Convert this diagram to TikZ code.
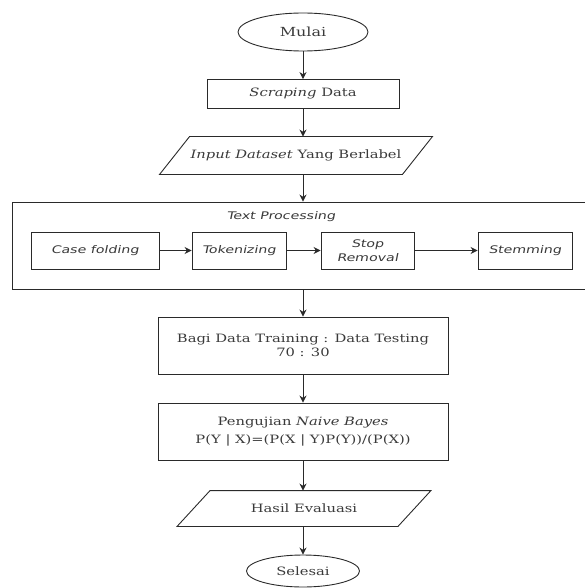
\documentclass[tikz,border=0pt]{standalone}
\usepackage{fontspec}
\setmainfont{DejaVu Serif}[FakeStretch=1.28]
\newfontfamily\itsans{DejaVu Sans}[FakeStretch=1.35,FakeSlant=0.2]
\usetikzlibrary{arrows.meta,shapes.geometric,calc}
\definecolor{ln}{HTML}{2A2A2A}
\definecolor{tx}{HTML}{3A3A3A}
\tikzset{
  base/.style={draw=ln, line width=0.9pt, text=tx, font=\fontsize{11.5}{13.5}\selectfont, align=center, inner sep=0pt},
  term/.style={base, ellipse},
  proc/.style={base, rectangle},
  io/.style={base, draw=none, rectangle},
  sub/.style={proc, font=\itsans\fontsize{10.5}{14}\selectfont},
  arr/.style={draw=ln, line width=0.9pt, -{Stealth[length=7pt,width=7pt]}},
  line/.style={draw=ln, line width=0.9pt},
}
\begin{document}
\begin{tikzpicture}[x=1pt,y=-1pt]
\useasboundingbox (0,0) rectangle (585,588);
\node[term, minimum width=130, minimum height=38, font=\fontsize{12.5}{14}\selectfont] (mulai) at (303,32) {Mulai};
\node[proc, minimum width=192, minimum height=29] (scrap) at (303,94) {\textit{Scraping} Data};
\node[io, minimum width=242, minimum height=37] (inp) at (296,155.5) {\textit{Input Dataset} Yang Berlabel};
\draw[line] ([xshift=15]inp.north west) -- ([xshift=15]inp.north east) -- ([xshift=-15]inp.south east) -- ([xshift=-15]inp.south west) -- cycle;
\node[proc, minimum width=582, minimum height=87] (tp) at (303,245.5) {};
\node[text=tx, font=\itsans\fontsize{10.5}{13}\selectfont, inner sep=0pt] (tplabel) at (281,217) {Text Processing};
\node[sub, minimum width=128, minimum height=37] (cf) at (95,250.5) {Case folding};
\node[sub, minimum width=94, minimum height=37] (tok) at (239,250.5) {Tokenizing};
\node[sub, minimum width=93, minimum height=37] (stop) at (367.5,250.5) {Stop\\Removal};
\node[sub, minimum width=94, minimum height=37] (stem) at (525,250.5) {Stemming};
\node[proc, minimum width=290, minimum height=57] (bagi) at (303,345.5) {Bagi Data Training : Data Testing\\70 : 30};
\node[proc, minimum width=290, minimum height=57] (uji) at (303,431.5) {Pengujian \textit{Naive Bayes}\\[5pt]P(Y | X)=(P(X | Y)P(Y))/(P(X))};
\node[io, minimum width=220, minimum height=35] (hasil) at (304,508.5) {Hasil Evaluasi};
\draw[line] ([xshift=16.5]hasil.north west) -- ([xshift=16.5]hasil.north east) -- ([xshift=-16.5]hasil.south east) -- ([xshift=-16.5]hasil.south west) -- cycle;
\node[term, minimum width=113, minimum height=32] (selesai) at (303,571) {Selesai};
\draw[arr] (mulai) -- (scrap);
\draw[arr] (scrap.south) -- (inp.north -| scrap.south);
\draw[arr] (inp.south -| scrap.south) -- (tp.north);
\draw[arr] (cf) -- (tok);
\draw[arr] (tok) -- (stop);
\draw[arr] (stop) -- (stem);
\draw[arr] (tp.south) -- (bagi.north);
\draw[arr] (bagi) -- (uji);
\draw[arr] (uji.south) -- (hasil.north -| uji.south);
\draw[arr] (hasil.south -| uji.south) -- (selesai);
\end{tikzpicture}
\end{document}
